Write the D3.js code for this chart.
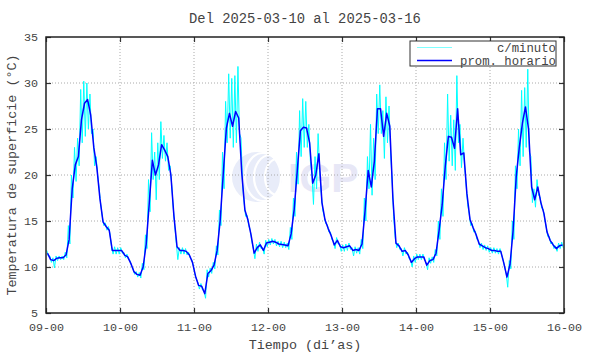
<!DOCTYPE html>
<html>
<head>
<meta charset="utf-8">
<script src="https://cdn.jsdelivr.net/npm/d3@7"></script>
<style>
	body { margin: 0; background: #fff; }
	text { font-family: "Liberation Mono", "DejaVu Sans Mono", monospace; fill: #444; }
</style>
</head>
<body>
<div id="chart"></div>
<script>

// tick labels
const dayLabels = ["09-00", "10-00", "11-00", "12-00", "13-00", "14-00", "15-00", "16-00"];
const tempTicks = [5, 10, 15, 20, 25, 30, 35];

// hourly mean (prom. horario), one row per day, value at hh:30
const promHorario = [
	11.5, 10.8, 10.7, 10.95, 11.0, 11.0, 11.3, 13.0, 18.5, 21.1, 22.0, 26.0, 27.8, 28.2, 26.5, 23.0, 20.8, 17.4, 14.9, 14.4, 14.0, 11.8, 11.8, 11.8,
	11.8, 11.3, 11.1, 10.4, 9.5, 9.2, 9.1, 10.0, 12.5, 17.0, 21.6, 20.0, 21.1, 23.3, 22.7, 22.0, 20.0, 15.5, 12.2, 11.8, 11.8, 11.7, 11.3, 10.5,
	9.0, 8.0, 7.9, 7.1, 9.3, 9.6, 10.2, 11.8, 15.1, 20.2, 25.1, 26.7, 25.3, 26.9, 26.2, 20.2, 16.2, 15.1, 13.5, 11.5, 12.1, 12.4, 11.8, 12.6,
	12.7, 12.8, 12.7, 12.5, 12.45, 12.4, 12.3, 13.6, 16.3, 20.5, 24.8, 25.2, 25.1, 23.5, 19.1, 20.0, 22.3, 17.0, 15.1, 14.2, 13.4, 12.4, 12.9, 12.2,
	12.1, 12.2, 12.3, 11.8, 11.9, 11.8, 12.5, 16.2, 20.5, 18.7, 21.5, 27.2, 27.2, 24.2, 26.7, 25.3, 17.5, 12.6, 12.3, 11.7, 11.8, 11.3, 10.5, 10.9,
	11.1, 11.1, 11.1, 10.2, 10.7, 10.8, 11.5, 14.0, 16.8, 21.0, 24.2, 24.1, 22.9, 27.2, 22.2, 22.4, 18.0, 15.2, 14.3, 13.5, 12.5, 12.3, 12.1, 12.0,
	11.8, 11.8, 11.7, 11.7, 10.4, 8.9, 10.3, 14.0, 19.8, 23.0, 25.6, 27.4, 25.0, 18.7, 17.3, 18.7, 17.0, 15.8, 13.8, 12.9, 12.4, 12.0, 12.3, 12.4
];

// per-minute readings, highest and lowest seen in each hour
const minutoAlto = [
	11.8, 11.2, 11.0, 11.2, 11.2, 11.2, 11.6, 14.5, 20.0, 23.0, 24.0, 29.3, 30.2, 30.0, 28.8, 25.0, 22.0, 18.5, 15.5, 14.8, 14.4, 12.2, 12.2, 12.1,
	12.1, 11.6, 11.4, 10.7, 9.8, 9.5, 9.4, 10.4, 13.5, 19.5, 24.6, 22.5, 23.5, 25.8, 24.3, 23.5, 21.0, 16.5, 12.6, 12.1, 12.1, 12.0, 11.6, 10.8,
	9.3, 8.3, 8.2, 7.4, 9.7, 9.9, 10.5, 12.3, 16.2, 22.5, 28.0, 31.0, 30.5, 30.8, 31.8, 24.0, 17.0, 15.6, 14.0, 12.0, 12.5, 12.7, 12.1, 12.9,
	13.0, 13.1, 13.0, 12.8, 12.8, 12.7, 12.6, 14.3, 17.5, 22.5, 27.0, 28.3, 28.0, 25.5, 20.0, 22.0, 24.5, 18.0, 15.5, 14.6, 13.8, 12.8, 13.2, 12.5,
	12.4, 12.5, 12.6, 12.1, 12.2, 12.1, 13.0, 17.5, 22.0, 25.5, 24.0, 28.8, 29.8, 27.0, 28.5, 27.5, 19.5, 13.2, 12.6, 12.0, 12.1, 11.6, 10.8, 11.2,
	11.4, 11.4, 11.4, 10.5, 11.0, 11.1, 11.9, 15.0, 18.5, 23.5, 28.8, 26.5, 26.0, 30.8, 25.5, 24.0, 19.0, 15.8, 14.7, 13.9, 12.9, 12.6, 12.4, 12.3,
	12.1, 12.1, 12.0, 12.0, 10.8, 9.3, 10.7, 15.0, 21.0, 25.0, 29.2, 29.5, 31.5, 22.0, 18.5, 19.5, 17.6, 16.3, 14.3, 13.3, 12.7, 12.3, 12.6, 12.7
];
const minutoBajo = [
	11.2, 10.5, 9.9, 10.7, 10.8, 10.8, 11.0, 12.5, 17.5, 19.3, 21.0, 23.5, 24.2, 25.0, 24.5, 21.0, 20.0, 16.8, 14.5, 14.0, 13.6, 11.4, 11.4, 11.4,
	11.5, 11.0, 10.8, 10.1, 9.2, 8.9, 8.8, 9.7, 12.0, 16.0, 19.5, 17.3, 19.5, 21.8, 21.5, 20.5, 19.0, 14.5, 10.8, 11.4, 11.4, 11.3, 11.0, 10.2,
	8.7, 7.6, 7.5, 6.6, 8.9, 9.3, 9.8, 11.3, 14.5, 18.5, 23.5, 24.0, 23.0, 23.5, 24.5, 19.0, 15.5, 14.5, 12.8, 10.9, 11.7, 12.0, 11.4, 12.2,
	12.4, 12.5, 12.3, 12.2, 12.1, 12.1, 11.9, 13.0, 15.5, 19.0, 22.0, 23.0, 23.0, 21.5, 16.8, 18.5, 20.5, 16.2, 14.7, 13.8, 13.0, 12.0, 12.5, 11.7,
	11.7, 11.8, 11.9, 11.2, 11.5, 11.4, 12.0, 15.0, 18.5, 17.8, 19.5, 24.5, 24.5, 21.8, 23.5, 22.5, 15.5, 12.1, 11.9, 11.2, 11.4, 10.9, 10.0, 10.5,
	10.8, 10.8, 10.8, 9.7, 10.4, 10.5, 11.2, 13.0, 15.5, 19.5, 21.5, 21.0, 20.5, 23.5, 20.8, 21.0, 16.8, 14.5, 13.8, 13.0, 12.1, 11.9, 11.8, 11.6,
	11.5, 11.5, 11.4, 11.3, 10.0, 7.8, 9.8, 13.0, 18.5, 21.0, 22.0, 23.0, 22.5, 17.0, 16.5, 17.8, 16.4, 15.2, 13.3, 12.5, 12.0, 11.7, 12.0, 12.1
];

const width = 590;
const height = 354;
const margin = { left: 46, right: 26, top: 37, bottom: 41 };
const plotW = width - margin.left - margin.right;
const plotH = height - margin.top - margin.bottom;

// time in days since 09-00
const hourly = promHorario.map((v, i) => ({ t: (i + 0.5) / 24, v: v }));
const minuto = [];
minutoAlto.forEach((hi, i) => {
	minuto.push({ t: (i + 0.25) / 24, v: hi });
	minuto.push({ t: (i + 0.75) / 24, v: minutoBajo[i] });
});

const scaleX = d3.scaleLinear().domain([0, dayLabels.length - 1]).range([0, plotW]);
const scaleY = d3.scaleLinear().domain([5, 35]).range([plotH, 0]);

const svg = d3.select("#chart")
	.append("svg")
		.attr("width", width)
		.attr("height", height);

svg.append("text")
	.attr("x", margin.left + plotW / 2)
	.attr("y", 23)
	.attr("text-anchor", "middle")
	.style("font-size", "13.8px")
	.text("Del 2025-03-10 al 2025-03-16");

const chart = svg.append("g")
	.attr("transform", `translate(${margin.left},${margin.top})`);

chart.append("clipPath")
	.attr("id", "plot-clip")
	.append("rect")
		.attr("width", plotW)
		.attr("height", plotH);

// watermark
const mark = chart.append("g").attr("opacity", 0.85);
mark.append("circle")
	.attr("cx", 211).attr("cy", 140).attr("r", 25)
	.attr("fill", "#e4e9f8");
[[6, 24], [13, 22], [20, 18]].forEach((e) => {
	mark.append("ellipse")
		.attr("cx", 211 + e[0]).attr("cy", 140).attr("rx", e[1] - 6).attr("ry", e[1])
		.attr("fill", "none").attr("stroke", "#fff").attr("stroke-width", 2.2);
});
mark.append("text")
	.attr("x", 242).attr("y", 155)
	.style("font-family", "'Liberation Sans', Arial, sans-serif")
	.style("font-weight", "bold")
	.style("font-size", "41px")
	.style("fill", "#e3e3f5")
	.text("IGP");

// grid
const gridY = tempTicks.slice(1, -1);
const gridX = d3.range(1, dayLabels.length - 1);
chart.append("g")
	.selectAll("line")
	.data(gridY).enter()
	.append("line")
		.attr("x1", 0).attr("x2", plotW)
		.attr("y1", (d) => scaleY(d)).attr("y2", (d) => scaleY(d))
		.attr("stroke", "#aaa").attr("stroke-dasharray", "1,2");
chart.append("g")
	.selectAll("line")
	.data(gridX).enter()
	.append("line")
		.attr("y1", 0).attr("y2", plotH)
		.attr("x1", (d) => scaleX(d)).attr("x2", (d) => scaleX(d))
		.attr("stroke", "#aaa").attr("stroke-dasharray", "1,2");

// data lines
const line = d3.line()
	.x((d) => scaleX(d.t))
	.y((d) => scaleY(d.v));

const lines = chart.append("g").attr("clip-path", "url(#plot-clip)");
lines.append("path")
	.datum(minuto)
	.attr("fill", "none")
	.attr("stroke", "#00ffff")
	.attr("stroke-width", 1)
	.attr("d", line);
lines.append("path")
	.datum(hourly)
	.attr("fill", "none")
	.attr("stroke", "#0000ff")
	.attr("stroke-width", 1.5)
	.attr("stroke-linejoin", "round")
	.attr("d", line);

// axes, ticks pointing inwards on all four sides
const dayTicks = d3.range(dayLabels.length);
const axisB = d3.axisBottom(scaleX).tickValues(dayTicks).tickFormat((d) => dayLabels[d])
	.tickSizeInner(-5).tickSizeOuter(0).tickPadding(10);
const axisT = d3.axisTop(scaleX).tickValues(dayTicks).tickFormat("")
	.tickSizeInner(-5).tickSizeOuter(0);
const axisL = d3.axisLeft(scaleY).tickValues(tempTicks)
	.tickSizeInner(-5).tickSizeOuter(0).tickPadding(8);
const axisR = d3.axisRight(scaleY).tickValues(tempTicks).tickFormat("")
	.tickSizeInner(-5).tickSizeOuter(0);

chart.append("g").attr("transform", `translate(0,${plotH})`).call(axisB);
chart.append("g").call(axisT);
chart.append("g").call(axisL);
chart.append("g").attr("transform", `translate(${plotW},0)`).call(axisR);

chart.selectAll(".domain").remove();
chart.selectAll(".tick line").attr("stroke", "#333").attr("stroke-width", 1.2);
chart.selectAll(".tick text")
	.style("font-family", "'Liberation Mono', monospace")
	.style("font-size", "11.7px")
	.attr("fill", "#444");

chart.append("rect")
	.attr("width", plotW)
	.attr("height", plotH)
	.attr("fill", "none")
	.attr("stroke", "#222")
	.attr("stroke-width", 1.5);

// axis titles
svg.append("text")
	.attr("x", margin.left + plotW / 2)
	.attr("y", 349)
	.attr("text-anchor", "middle")
	.style("font-size", "13.4px")
	.text("Tiempo (di\u2019as)");

svg.append("text")
	.attr("transform", `translate(16,${margin.top + plotH / 2}) rotate(-90)`)
	.attr("text-anchor", "middle")
	.style("font-size", "13.4px")
	.text("Temperatura de superficie (°C)");

// legend
const legendItems = [
	{ label: "c/minuto", color: "#7fffff", w: 1 },
	{ label: "prom. horario", color: "#0000ff", w: 1.5 }
];
const legend = svg.append("g").attr("transform", "translate(410,41)");
legend.append("rect")
	.attr("width", 146)
	.attr("height", 25)
	.attr("fill", "#fff")
	.attr("stroke", "#333")
	.attr("stroke-width", 1);
const rows = legend.selectAll(".row")
	.data(legendItems).enter()
	.append("g")
		.attr("class", "row")
		.attr("transform", (d, i) => `translate(0,${6.5 + i * 13})`);
rows.append("line")
	.attr("x1", 7).attr("x2", 42)
	.attr("stroke", (d) => d.color)
	.attr("stroke-width", (d) => d.w);
rows.append("text")
	.attr("x", 146)
	.attr("dy", "0.35em")
	.attr("text-anchor", "end")
	.style("font-size", "12.3px")
	.text((d) => d.label);

</script>
</body>
</html>
